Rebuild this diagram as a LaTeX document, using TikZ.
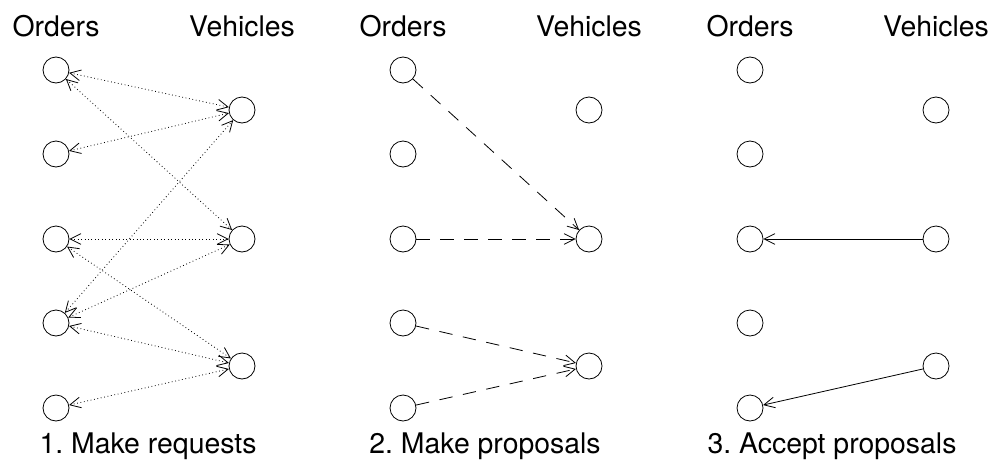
\documentclass[tikz,border=0pt]{standalone}
\usepackage{fontspec}
\setmainfont{TeX Gyre Heros}
\usetikzlibrary{arrows.meta}
\frenchspacing

\begin{document}
\begin{tikzpicture}[x=0.75pt,y=-0.75pt,
	place/.style={circle,draw,line width=0.6pt,minimum size=19.5pt,inner sep=0pt},
	title/.style={anchor=base,inner sep=0pt,font=\fontsize{21.3}{24}\selectfont},
	barb/.tip={Straight Barb[length=8pt,width=8pt]},
	request/.style={dotted,line width=0.6pt,barb-barb},
	proposal/.style={dash pattern=on 10pt off 8pt,line width=0.6pt,-barb},
	accept/.style={line width=0.6pt,-barb}]
		\useasboundingbox (0,0) rectangle (994,464);
		
		% three panels: orders left, vehicles right
		\foreach \p/\dx in {a/0,b/347,c/694} {
			\node[title] (\p orders) at (56+\dx,36) {Orders};
			\node[title] (\p vehicles) at (242+\dx,36) {Vehicles};
			\foreach \i/\y in {1/70,2/154,3/239,4/323,5/408}
				\node[place] (\p o\i) at (56+\dx,\y) {};
			\foreach \i/\y in {1/110,2/239,3/366}
				\node[place] (\p v\i) at (242+\dx,\y) {};
		}
		
		\node[title] (acap) at (148,453) {1. Make requests};
		\node[title] (bcap) at (485,453) {2. Make proposals};
		\node[title] (ccap) at (832,453) {3. Accept proposals};
		
		% 1. requests
		\foreach \o/\v in {1/1,1/2,2/1,3/2,3/3,4/1,4/2,4/3,5/3}
			\draw[request] (ao\o) -- (av\v);
		
		% 2. proposals
		\foreach \o/\v in {1/2,3/2,4/3,5/3}
			\draw[proposal] (bo\o) -- (bv\v);
		
		% 3. accepted
		\draw[accept] (cv2) -- (co3);
		\draw[accept] (cv3) -- (co5);
		
\end{tikzpicture}
\end{document}
